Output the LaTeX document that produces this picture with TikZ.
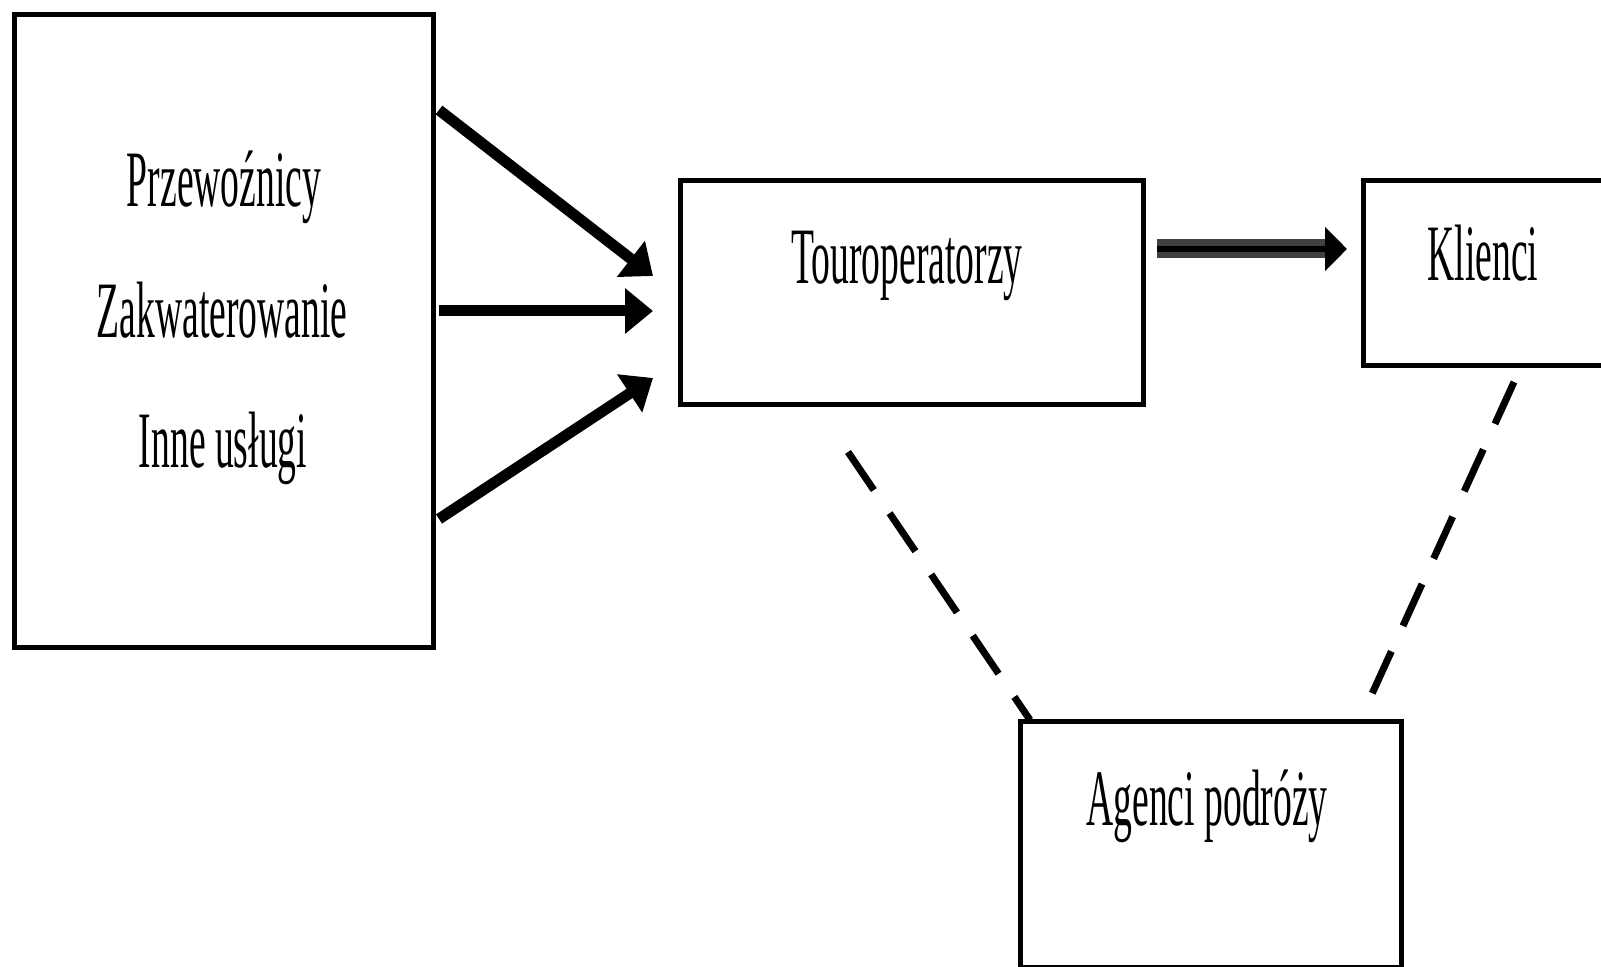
\documentclass[tikz,border=0pt]{standalone}
\usepackage{fontspec}
\setmainfont{Liberation Serif}
\usepackage{graphicx}
\usetikzlibrary{arrows.meta}

% narrow, tall lettering as in the scan
\newcommand{\narrowtxt}[1]{\scalebox{0.47}[1]{#1}}

\tikzset{
  box/.style={draw, line width=2.5pt, inner sep=0pt, anchor=north west},
  lbl/.style={anchor=base, inner sep=0pt, font=\fontsize{40}{48}\selectfont},
  feed/.style={line width=5.5pt, -{Triangle[length=14pt,width=22pt]}},
  link/.style={line width=3.5pt, dash pattern=on 23pt off 14pt}
}

\begin{document}
\begin{tikzpicture}[x=0.5pt,y=-0.5pt]
  \useasboundingbox (0,0) rectangle (1601,967);

  % boxes
  \node[box, minimum width=209.5pt, minimum height=316.5pt] (supply) at (12,12) {};
  \node[box, minimum width=231.5pt, minimum height=112pt] (tour) at (678,178) {};
  \node[box, minimum width=139.5pt, minimum height=92.5pt] (klienci) at (1361,178) {};
  \node[box, minimum width=190.5pt, minimum height=123pt] (agenci) at (1018,719) {};

  \node[lbl] (przew) at (224,207) {\narrowtxt{Przewoźnicy}};
  \node[lbl] (zakw) at (222,338) {\narrowtxt{Zakwaterowanie}};
  \node[lbl] (inne) at (223,468) {\narrowtxt{Inne usługi}};
  \node[lbl] (tourtxt) at (907,284) {\narrowtxt{Touroperatorzy}};
  \node[lbl] (klitxt) at (1483,281) {\narrowtxt{Klienci}};
  \node[lbl] (agtxt) at (1207,825) {\narrowtxt{Agenci podróży}};

  % arrow ends
  \coordinate (s1) at (439,110);
  \coordinate (s2) at (439,311);
  \coordinate (s3) at (439,519);
  \coordinate (t1) at (653,276);
  \coordinate (t2) at (653,311);
  \coordinate (t3) at (653,378);
  \coordinate (o1) at (1157,249);
  \coordinate (o2) at (1347,249);
  \coordinate (d1) at (848,452);
  \coordinate (d2) at (1030,720);
  \coordinate (d3) at (1514,382);
  \coordinate (d4) at (1361,718);

  \draw[feed] (s1) -- (t1);
  \draw[feed] (s2) -- (t2);
  \draw[feed] (s3) -- (t3);

  \draw[line width=9.5pt, black!75, shorten >=10pt] (o1) -- (o2);
  \draw[line width=3pt, -{Triangle[length=11pt,width=21.5pt]}] (o1) -- (o2);

  %\draw[link] (tour) -- (agenci);
  \draw[link] (d1) -- (d2);
  \draw[link] (d3) -- (d4);
\end{tikzpicture}
\end{document}
